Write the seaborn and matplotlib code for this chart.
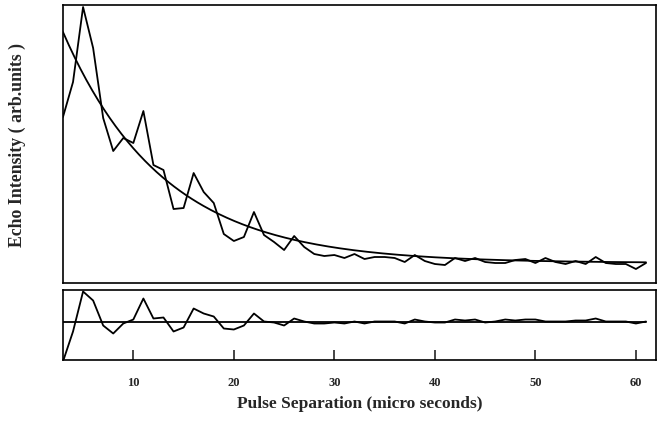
import numpy as np
import pandas as pd
import matplotlib
matplotlib.use("Agg")
import matplotlib.pyplot as plt
import seaborn as sns

# pulse separation (micro seconds)
pulse_sep = list(range(3, 62))

# measured echo intensity (arb. units, baseline = 0)
echo = [146, 181, 256, 215, 145, 112, 125, 120, 152, 98,
        93, 54, 55, 90, 71, 60, 29, 22, 26, 51,
        28, 21, 13, 27, 16, 9, 7, 8, 5, 9,
        4, 6, 6, 5, 1, 8, 2, -1, -2, 5,
        2, 5, 1, 0, 0, 3, 4, 0, 5, 1,
        -1, 2, -1, 6, 0, -1, -1, -6, 0]

# exponential decay fit parameters
fit_amp = 231.0
fit_tau = 10.0
fit_t0 = 3.0

# residuals shown in the lower panel
resid = [-40, -10, 30, 21, -4, -12, -2, 2, 23, 3,
         4, -10, -6, 13, 8, 5, -7, -8, -4, 8,
         0, -1, -4, 3, 0, -2, -2, -1, -2, 0,
         -2, 0, 0, 0, -2, 2, 0, -1, -1, 2,
         1, 2, -1, 0, 2, 1, 2, 2, 0, 0,
         0, 1, 1, 3, 0, 0, 0, -2, 0]

xticks = [10, 20, 30, 40, 50, 60]

sns.set_style("white")
plt.rcParams["font.family"] = ["Liberation Serif", "DejaVu Serif"]

df = pd.DataFrame({"t": pulse_sep, "echo": echo, "resid": resid})
t_fine = np.linspace(pulse_sep[0], pulse_sep[-1], 300)
fit_df = pd.DataFrame({"t": t_fine,
                       "fit": fit_amp * np.exp(-(t_fine - fit_t0) / fit_tau)})

fig = plt.figure(figsize=(6.58, 4.40), dpi=100)
ax1 = fig.add_axes([0.0957, 0.3568, 0.9013, 0.6318])
ax2 = fig.add_axes([0.0957, 0.1818, 0.9013, 0.1591])

lw = 1.3
sns.lineplot(data=df, x="t", y="echo", ax=ax1, color="black", lw=lw)
sns.lineplot(data=fit_df, x="t", y="fit", ax=ax1, color="black", lw=lw)
ax1.set_xlim(3, 62)
ax1.set_ylim(-20, 258)
ax1.set_xticks([])
ax1.set_yticks([])
ax1.set_xlabel("")
ax1.set_ylabel("")
fig.text(0.027, 0.67, "Echo Intensity ( arb.units )", rotation=90,
         ha="center", va="center", fontsize=12.8, fontweight="bold")

sns.lineplot(data=df, x="t", y="resid", ax=ax2, color="black", lw=lw)
ax2.plot([pulse_sep[0], pulse_sep[-1]], [0, 0], color="black", lw=lw)
ax2.set_xlim(3, 62)
ax2.set_ylim(-38.5, 31.5)
ax2.set_yticks([])
ax2.set_xticks(xticks)
ax2.set_xticklabels([str(v) for v in xticks], fontsize=9, fontweight="bold")
ax2.tick_params(axis="x", direction="in", length=7, width=1.2, pad=12,
                bottom=True)
ax2.set_ylabel("")
ax2.set_xlabel("Pulse Separation (micro seconds)", fontsize=12.5,
               fontweight="bold", labelpad=5)

for ax in (ax1, ax2):
    for sp in ax.spines.values():
        sp.set_color("black")
        sp.set_linewidth(1.2)

fig.savefig("out.png", dpi=100)
